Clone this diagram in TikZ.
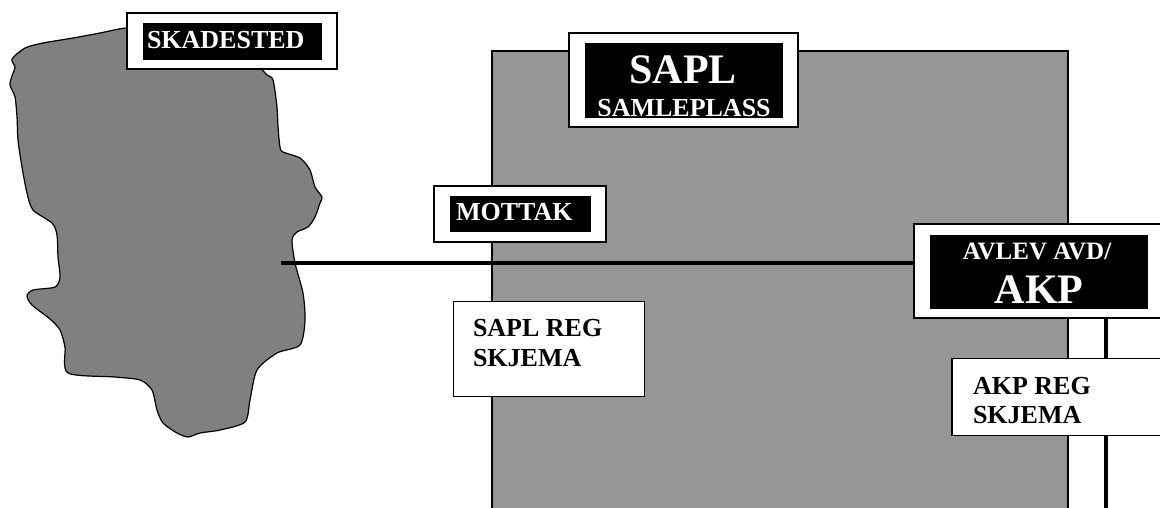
\documentclass[tikz,border=0pt]{standalone}
\usepackage{fontspec}
\setmainfont{Liberation Serif}
\usetikzlibrary{positioning}
\usepackage{xcolor}
\definecolor{saplgray}{RGB}{150,150,150}
\definecolor{sitegray}{RGB}{128,128,128}

\begin{document}
\begin{tikzpicture}[x=1pt, y=-1pt,
    every node/.style={inner sep=0pt, outer sep=0pt},
    tagbox/.style={draw, fill=white, line width=2pt},
    darkbox/.style={fill=black},
    regbox/.style={draw, fill=white, line width=1.2pt},
    wtext/.style={text=white, anchor=base, font=\bfseries\fontsize{26}{26}\selectfont},
    bigtext/.style={font=\bfseries\fontsize{42}{42}\selectfont},
    btext/.style={text=black, anchor=base west, font=\bfseries\fontsize{26}{26}\selectfont},
    link/.style={line width=4pt}]
    \useasboundingbox (0,0) rectangle (1160,507);

    \draw[line width=1.5pt, fill=saplgray] (492,51) rectangle (1068,520);

    \draw[line width=1.2pt, fill=sitegray] plot[smooth cycle, tension=0.45] coordinates {
        (126,28) (100,33) (73,38) (43,43) (25,48) (12,59) (15,67) (12,76) (10,85)
        (15,97) (17,117) (18,140) (22,167) (27,193) (33,210) (52,223) (57,235)
        (58,257) (60,277) (55,287) (33,290) (27,296) (32,305) (50,319) (60,330)
        (65,347) (68,373) (115,377) (140,380) (152,390) (157,410) (163,423)
        (177,433) (188,437) (200,433) (220,430) (245,422) (250,400) (257,370)
        (277,353) (300,345) (305,320) (303,293) (295,263) (292,240) (297,232)
        (308,227) (315,217) (320,203) (322,197) (315,187) (310,170) (300,158)
        (283,152) (280,147) (278,127) (277,107) (273,80) (267,75) (255,65)
        (200,40) (150,30)};

    \node[tagbox, minimum width=250pt, minimum height=94pt] (avlev) at (1039,271) {};
    \node[darkbox, minimum width=218pt, minimum height=74pt] (avlevbar) at (1039,272) {};
    \node[wtext, font=\bfseries\fontsize{25}{25}\selectfont] (avlevtxt) at (1037,259) {AVLEV AVD/};
    \node[wtext, bigtext] (akptxt) at (1039,303) {AKP};

    \coordinate (site) at (281,263);
    \coordinate (akpfoot) at (1106,512);
    \draw[link] (site) -- (site -| avlev.west);
    \draw[link] (avlev.south -| akpfoot) -- (akpfoot);

    \node[tagbox, minimum width=210pt, minimum height=56pt] (skadested) at (232,41) {};
    \node[darkbox, minimum width=179pt, minimum height=37pt] (skadestedbar) at (232.5,41.5) {};
    \node[wtext, anchor=base west] (skadestedtxt) at (147,48) {SKADESTED};

    \node[tagbox, minimum width=229pt, minimum height=94pt] (sapl) at (683.5,80) {};
    \node[darkbox, minimum width=198pt, minimum height=75pt] (saplbar) at (684,80.5) {};
    \node[wtext, bigtext] (sapltxt) at (683,83) {SAPL};
    \node[wtext] (samleplass) at (684,116) {SAMLEPLASS};

    \node[tagbox, minimum width=172pt, minimum height=56pt] (mottak) at (520,214) {};
    \node[darkbox, minimum width=141pt, minimum height=36pt] (mottakbar) at (520.5,214) {};
    \node[wtext, anchor=base west] (mottaktxt) at (456,220) {MOTTAK};

    \node[regbox, minimum width=191pt, minimum height=95pt] (saplreg) at (549,349) {};
    \node[btext] (saplregtxt) at (473,336) {SAPL REG};
    \node[btext] (saplskjema) at (473,366) {SKJEMA};

    \node[regbox, minimum width=220pt, minimum height=77pt] (akpreg) at (1062,397) {};
    \node[btext] (akpregtxt) at (973,394) {AKP REG};
    \node[btext] (akpskjema) at (973,423) {SKJEMA};

\end{tikzpicture}
\end{document}
